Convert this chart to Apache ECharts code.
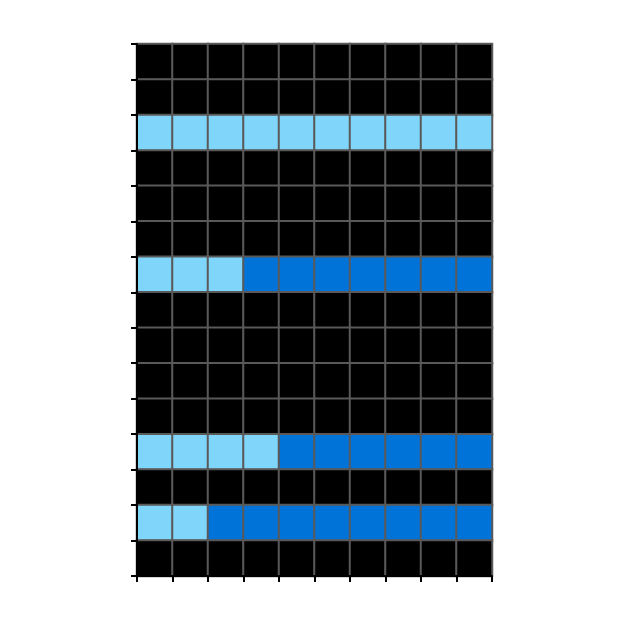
<!DOCTYPE html>
<html>
<head>
<meta charset="utf-8">
<script src="https://cdn.jsdelivr.net/npm/echarts@6/dist/echarts.min.js"></script>
<style>html,body{margin:0;padding:0;background:#fff;}#c{width:629px;height:629px;}</style>
</head>
<body>
<div id="c"></div>
<script>
// categories
const columns = ['1','2','3','4','5','6','7','8','9','10'];
const rows = ['1','2','3','4','5','6','7','8','9','10','11','12','13','14','15'];
// filled rows (index from top), light-blue cell count, dark-blue cell count
const filledRows = [2, 6, 11, 13];
const lightCells = [10, 3, 4, 2];
const darkCells  = [0, 7, 6, 8];

const data = [];
for (let r = 0; r < rows.length; r++) {
  const k = filledRows.indexOf(r);
  for (let c = 0; c < columns.length; c++) {
    let v = 0;
    if (k >= 0) {
      if (c < lightCells[k]) v = 1;
      else if (c < lightCells[k] + darkCells[k]) v = 2;
    }
    data.push([c, r, v]);
  }
}

const chart = echarts.init(document.getElementById('c'), null, {renderer: 'canvas'});
chart.setOption({
  animation: false,
  backgroundColor: '#ffffff',
  grid: {left: 137, right: 137, top: 44, bottom: 53, show: true, backgroundColor: '#000', borderWidth: 0},
  xAxis: {
    type: 'category', data: columns, z: 10,
    axisLine: {show: true, lineStyle: {color: '#000', width: 2}},
    axisTick: {show: true, length: 6, lineStyle: {color: '#000', width: 2}},
    axisLabel: {show: false},
    splitLine: {show: false}
  },
  yAxis: {
    type: 'category', data: rows, inverse: true, z: 10,
    axisLine: {show: true, lineStyle: {color: '#000', width: 2}},
    axisTick: {show: true, length: 6, lineStyle: {color: '#000', width: 2}},
    axisLabel: {show: false},
    splitLine: {show: false}
  },
  visualMap: {
    show: false, type: 'piecewise', dimension: 2,
    pieces: [
      {value: 0, color: '#000000'},
      {value: 1, color: '#80d6fa'},
      {value: 2, color: '#0073d9'}
    ]
  },
  series: [{
    type: 'heatmap',
    data: data,
    itemStyle: {borderColor: '#595959', borderWidth: 2},
    emphasis: {disabled: true}
  }]
});
</script>
</body>
</html>
